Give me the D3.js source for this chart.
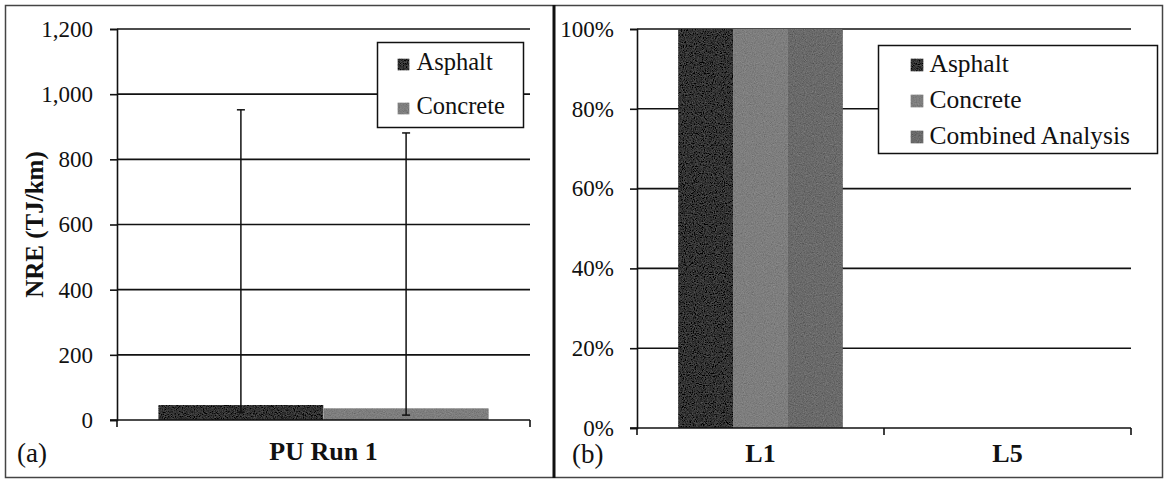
<!DOCTYPE html>
<html>
<head>
<meta charset="utf-8">
<script src="https://d3js.org/d3.v7.min.js"></script>
<style>
  body { margin: 0; background: #fff; }
  text { font-family: "Liberation Serif", "Times New Roman", serif; fill: #111; }
</style>
</head>
<body>
<svg id="chart"></svg>
<script>
  // panel (a): NRE per category, with error bars
  var leftCategories = ["PU Run 1"];
  var leftSeries = ["Asphalt", "Concrete"];
  var leftValues = [46, 36];          // one value per series
  var leftErrLow = [24, 15];
  var leftErrHigh = [952, 881];
  var leftTicks = [0, 200, 400, 600, 800, 1000, 1200];

  // panel (b): share per category
  var rightCategories = ["L1", "L5"];
  var rightSeries = ["Asphalt", "Concrete", "Combined Analysis"];
  var rightValues = [[1, 1, 1], [0, 0, 0]];   // rows = categories
  var rightTicks = [0, 0.2, 0.4, 0.6, 0.8, 1];

  var colors = { "Asphalt": "#333333", "Concrete": "#7e7e7e", "Combined Analysis": "#6a6a6a" };

  var W = 1166, H = 481;
  var svg = d3.select('#chart').attr('width', W).attr('height', H);

  // scanned-print grain on the bars
  var f = svg.append('defs').append('filter').attr('id', 'grain')
    .attr('x', 0).attr('y', 0).attr('width', 1).attr('height', 1);
  f.append('feTurbulence').attr('type', 'fractalNoise').attr('baseFrequency', 0.9)
    .attr('numOctaves', 2).attr('seed', 4).attr('result', 'n');
  f.append('feColorMatrix').attr('in', 'n').attr('type', 'matrix')
    .attr('values', '0.33 0.33 0.33 0 0  0.33 0.33 0.33 0 0  0.33 0.33 0.33 0 0  0 0 0 0 1')
    .attr('result', 'g');
  f.append('feComposite').attr('in', 'SourceGraphic').attr('in2', 'g').attr('operator', 'arithmetic')
    .attr('k1', 0).attr('k2', 1).attr('k3', 0.28).attr('k4', -0.14).attr('result', 'm');
  f.append('feComposite').attr('in', 'm').attr('in2', 'SourceGraphic').attr('operator', 'in');

  // frame of both panels
  svg.append('rect').attr('x', 5.5).attr('y', 5.5).attr('width', 1157).attr('height', 472)
    .attr('fill', 'none').attr('stroke', '#444').attr('stroke-width', 1.5);
  svg.append('line').attr('x1', 554).attr('x2', 554).attr('y1', 5).attr('y2', 478)
    .attr('stroke', '#111').attr('stroke-width', 3);

  // ---------- panel (a) ----------
  var aLeft = 117, aRight = 530, aTop = 29, aBottom = 420;
  var ya = d3.scaleLinear().domain([0, 1200]).range([aBottom, aTop]);
  var xa0 = d3.scaleBand().domain(leftCategories).range([aLeft, aRight]);
  var barA = xa0.bandwidth() / (leftSeries.length + 0.5);   // gap width 50%
  var xa1 = d3.scaleBand().domain(leftSeries)
    .range([barA * 0.25, xa0.bandwidth() - barA * 0.25]);

  var gA = svg.append('g');
  gA.selectAll('.grid').data(leftTicks.slice(1)).enter().append('line')
    .attr('x1', aLeft).attr('x2', aRight)
    .attr('y1', function(d) { return ya(d); }).attr('y2', function(d) { return ya(d); })
    .attr('stroke', '#111').attr('stroke-width', 1.6);

  gA.selectAll('.bar').data(leftValues).enter().append('rect')
    .attr('x', function(d, i) { return xa0(leftCategories[0]) + xa1(leftSeries[i]); })
    .attr('y', function(d) { return ya(d); })
    .attr('width', xa1.bandwidth())
    .attr('height', function(d) { return ya(0) - ya(d); })
    .attr('fill', function(d, i) { return colors[leftSeries[i]]; })
    .attr('filter', 'url(#grain)');

  // error bars
  leftValues.forEach(function(v, i) {
    var cx = xa0(leftCategories[0]) + xa1(leftSeries[i]) + xa1.bandwidth() / 2;
    var e = gA.append('g').attr('stroke', '#111').attr('stroke-width', 1.5);
    e.append('line').attr('x1', cx).attr('x2', cx).attr('y1', ya(leftErrLow[i])).attr('y2', ya(leftErrHigh[i]));
    [leftErrLow[i], leftErrHigh[i]].forEach(function(t) {
      e.append('line').attr('x1', cx - 4).attr('x2', cx + 4).attr('y1', ya(t)).attr('y2', ya(t));
    });
  });

  var axA = d3.axisLeft(ya).tickValues(leftTicks).tickSize(7).tickPadding(17)
    .tickFormat(d3.format(','));
  gA.append('g').attr('transform', 'translate(' + aLeft + ',0)').call(axA)
    .call(function(g) {
      g.select('.domain').attr('stroke', '#111').attr('stroke-width', 1.6);
      g.selectAll('line').attr('stroke', '#111').attr('stroke-width', 1.6);
      g.selectAll('text').attr('font-size', 23).attr('fill', '#111')
        .attr('font-family', '"Liberation Serif", serif');
    });
  var xAxisA = gA.append('g').attr('transform', 'translate(0,' + aBottom + ')');
  xAxisA.append('line').attr('x1', aLeft - 7).attr('x2', aRight).attr('stroke', '#111').attr('stroke-width', 1.6);
  [aLeft, aRight].forEach(function(x) {
    xAxisA.append('line').attr('x1', x).attr('x2', x).attr('y1', 0).attr('y2', 7)
      .attr('stroke', '#111').attr('stroke-width', 1.6);
  });
  xAxisA.selectAll('.cat').data(leftCategories).enter().append('text')
    .attr('x', function(d) { return xa0(d) + xa0.bandwidth() / 2; }).attr('y', 40)
    .attr('text-anchor', 'middle').attr('font-size', 26).attr('font-weight', 'bold').text(function(d) { return d; });

  svg.append('text').attr('transform', 'translate(43,' + ((aTop + aBottom) / 2) + ') rotate(-90)')
    .attr('text-anchor', 'middle').attr('font-size', 25).attr('font-weight', 'bold').text('NRE (TJ/km)');
  svg.append('text').attr('x', 17).attr('y', 462).attr('font-size', 27).text('(a)');

  // legend (a)
  var legA = svg.append('g').attr('transform', 'translate(377.5,42.5)');
  legA.append('rect').attr('width', 146).attr('height', 85).attr('fill', '#fff')
    .attr('stroke', '#111').attr('stroke-width', 1.5);
  leftSeries.forEach(function(s, i) {
    legA.append('rect').attr('x', 20).attr('y', 16 + i * 44).attr('width', 12).attr('height', 12)
      .attr('fill', colors[s]).attr('filter', 'url(#grain)');
    legA.append('text').attr('x', 39).attr('y', 27 + i * 44).attr('font-size', 24.5).text(s);
  });

  // ---------- panel (b) ----------
  var bLeft = 637, bRight = 1131, bTop = 29, bBottom = 428;
  var yb = d3.scaleLinear().domain([0, 1]).range([bBottom, bTop]);
  var xb0 = d3.scaleBand().domain(rightCategories).range([bLeft, bRight]);
  var barB = xb0.bandwidth() / (rightSeries.length + 1.5);   // gap width 150%
  var xb1 = d3.scaleBand().domain(rightSeries)
    .range([barB * 0.75, xb0.bandwidth() - barB * 0.75]);

  var gB = svg.append('g');
  gB.selectAll('.grid').data(rightTicks.slice(1)).enter().append('line')
    .attr('x1', bLeft).attr('x2', bRight)
    .attr('y1', function(d) { return yb(d); }).attr('y2', function(d) { return yb(d); })
    .attr('stroke', '#111').attr('stroke-width', 1.6);

  rightCategories.forEach(function(c, ci) {
    gB.selectAll('.bar' + ci).data(rightValues[ci]).enter().append('rect')
      .attr('x', function(d, i) { return xb0(c) + xb1(rightSeries[i]); })
      .attr('y', function(d) { return yb(d); })
      .attr('width', xb1.bandwidth())
      .attr('height', function(d) { return yb(0) - yb(d); })
      .attr('fill', function(d, i) { return colors[rightSeries[i]]; })
      .attr('filter', 'url(#grain)');
  });

  var axB = d3.axisLeft(yb).tickValues(rightTicks).tickSize(7).tickPadding(16)
    .tickFormat(d3.format('.0%'));
  gB.append('g').attr('transform', 'translate(' + bLeft + ',0)').call(axB)
    .call(function(g) {
      g.select('.domain').attr('stroke', '#111').attr('stroke-width', 1.6);
      g.selectAll('line').attr('stroke', '#111').attr('stroke-width', 1.6);
      g.selectAll('text').attr('font-size', 23).attr('fill', '#111')
        .attr('font-family', '"Liberation Serif", serif');
    });
  var xAxisB = gB.append('g').attr('transform', 'translate(0,' + bBottom + ')');
  xAxisB.append('line').attr('x1', bLeft - 7).attr('x2', bRight).attr('stroke', '#111').attr('stroke-width', 1.6);
  [bLeft].concat(rightCategories.map(function(c) { return xb0(c) + xb0.bandwidth(); })).forEach(function(x) {
    xAxisB.append('line').attr('x1', x).attr('x2', x).attr('y1', 0).attr('y2', 7)
      .attr('stroke', '#111').attr('stroke-width', 1.6);
  });
  xAxisB.selectAll('.cat').data(rightCategories).enter().append('text')
    .attr('x', function(d) { return xb0(d) + xb0.bandwidth() / 2; }).attr('y', 34)
    .attr('text-anchor', 'middle').attr('font-size', 26).attr('font-weight', 'bold').text(function(d) { return d; });

  svg.append('text').attr('x', 572).attr('y', 463).attr('font-size', 27).text('(b)');

  // legend (b)
  var legB = svg.append('g').attr('transform', 'translate(878.5,45.5)');
  legB.append('rect').attr('width', 279).attr('height', 108).attr('fill', '#fff')
    .attr('stroke', '#111').attr('stroke-width', 1.5);
  rightSeries.forEach(function(s, i) {
    legB.append('rect').attr('x', 32).attr('y', 13 + i * 36).attr('width', 13).attr('height', 13)
      .attr('fill', colors[s]).attr('filter', 'url(#grain)');
    legB.append('text').attr('x', 51).attr('y', 26 + i * 36).attr('font-size', 25.5).text(s);
  });
</script>
</body>
</html>
